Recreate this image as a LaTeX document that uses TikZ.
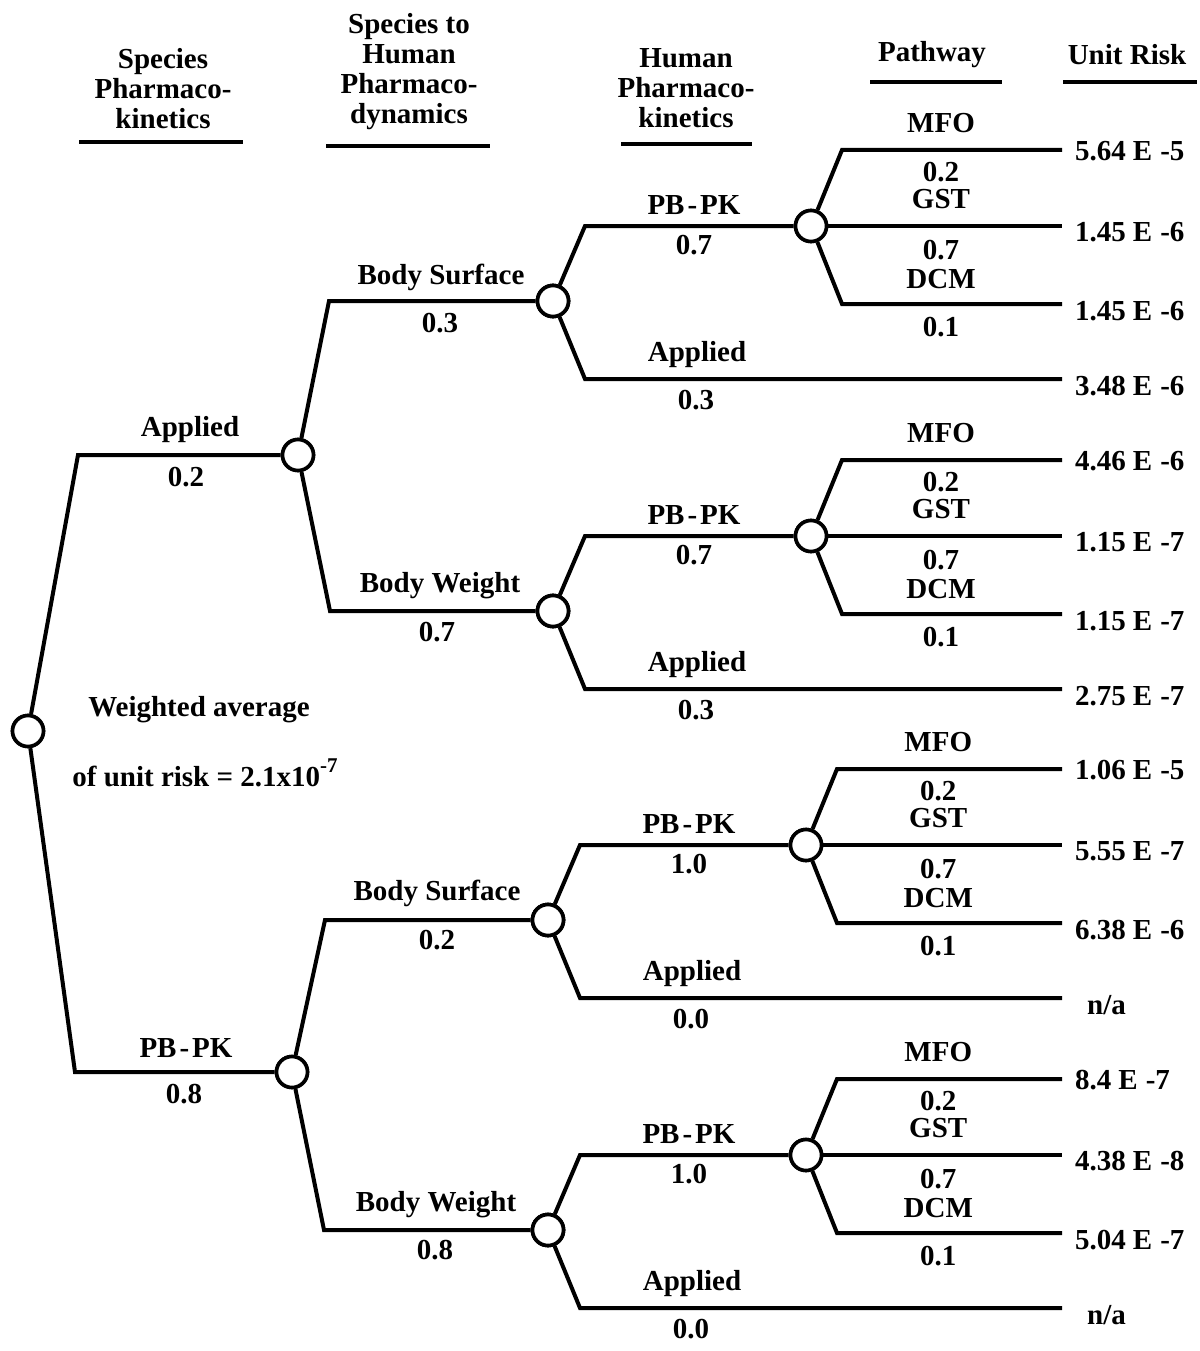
\documentclass[tikz,border=0pt]{standalone}
\usepackage{fontspec}
\setmainfont{Liberation Serif}
\usetikzlibrary{calc}
\tikzset{
  chance/.style={circle,draw,line width=3.6pt,minimum size=31pt,inner sep=0pt,fill=white},
  br/.style={line width=4pt,line join=miter},
  lab/.style={font=\fontsize{29}{30}\selectfont\bfseries,inner sep=0pt},
  val/.style={lab,anchor=west},
  hd/.style={lab,align=center},
  ul/.style={line width=4.5pt},
}
\newcommand\uv[3]{#1\hspace{7pt}E\hspace{8pt}-#3}
\newcommand\pbpk{PB\hspace{3pt}-\hspace{3pt}PK}
\newcommand\grp[9]{%
  \node[chance] (#1) at (#2,#3) {};
  \coordinate (#1u) at ($(#1)+(32,-75)$);
  \coordinate (#1d) at ($(#1)+(32,78)$);
  \node[chance] (#1c) at ($(#1)+(258,-75)$) {};
  \coordinate (#1cu) at ($(#1c)+(31,-76)$);
  \coordinate (#1cd) at ($(#1c)+(31,78)$);
  \coordinate (#1e1) at (#1cu -| E);
  \coordinate (#1e2) at (#1c -| E);
  \coordinate (#1e3) at (#1cd -| E);
  \coordinate (#1e4) at (#1d -| E);
  \draw[br] (#1) -- (#1u) -- (#1c);
  \draw[br] (#1) -- (#1d) -- (#1e4);
  \draw[br] (#1c) -- (#1cu) -- (#1e1);
  \draw[br] (#1c) -- (#1e2);
  \draw[br] (#1c) -- (#1cd) -- (#1e3);
  \node[chance] at (#1) {};
  \node[chance] at (#1c) {};
  \node[lab] at ($(#1u)!0.5!(#1c)+(-4,-21)$) {\pbpk};
  \node[lab] at ($(#1u)!0.5!(#1c)+(-4,19)$) {#4};
  \node[lab] at ($(#1u)!0.5!(#1c)+(-1,129)$) {Applied};
  \node[lab] at ($(#1u)!0.5!(#1c)+(-2,174)$) {#5};
  \node[lab] at ($(#1cu)!0.45!(#1e1)+(0,-27)$) {MFO};
  \node[lab] at ($(#1cu)!0.45!(#1e1)+(0,22)$) {0.2};
  \node[lab] at ($(#1cu)!0.45!(#1e1)+(0,49)$) {GST};
  \node[lab] at ($(#1cu)!0.45!(#1e1)+(0,100)$) {0.7};
  \node[lab] at ($(#1cu)!0.45!(#1e1)+(0,129)$) {DCM};
  \node[lab] at ($(#1cu)!0.45!(#1e1)+(0,177)$) {0.1};
  \node[val] at ($(#1e1)+(13,1)$) {#6};
  \node[val] at ($(#1e2)+(13,6)$) {#7};
  \node[val] at ($(#1e3)+(13,7)$) {#8};
  \node[val] at ($(#1e4)+(13,7)$) {#9};
}
\begin{document}
\begin{tikzpicture}[x=1pt,y=-1pt]
\path[use as bounding box] (0,0) rectangle (1199,1351);
\coordinate (E) at (1062,0);
% headers
\node[hd] (h1) at (163,89) {Species\\Pharmaco-\\kinetics};
\node[hd] (h2) at (409,72) {Species to\\Human\\Pharmaco-\\dynamics};
\node[hd] (h3) at (686,88) {Human\\Pharmaco-\\kinetics};
\node[hd] (h4) at (932,55) {Pathway};
\node[hd] (h5) at (1127,55) {Unit Risk};
\draw[ul] (79,142) -- (243,142);
\draw[ul] (326,146) -- (490,146);
\draw[ul] (621,144) -- (752,144);
\draw[ul] (870,82) -- (1002,82);
\draw[ul] (1063,82) -- (1197,82);
% root and level 1
\node[chance] (R) at (28,731) {};
\coordinate (A1) at (78,455);
\coordinate (P1) at (75,1072);
\node[chance] (CA) at (298,455) {};
\node[chance] (CP) at (292,1072) {};
\draw[br] (R) -- (A1) -- (CA);
\draw[br] (R) -- (P1) -- (CP);
\node[chance] at (R) {};
\node[lab] at (190,430) {Applied};
\node[lab] at (186,477) {0.2};
\node[lab] at (186,1048) {\pbpk};
\node[lab] at (184,1094) {0.8};
% level 2
\coordinate (BS1) at (329,301);
\coordinate (BW1) at (330,611);
\coordinate (BS2) at (325,920);
\coordinate (BW2) at (324,1230);
\grp{S1}{553}{301}{0.7}{0.3}{\uv{5.64}{}{5}}{\uv{1.45}{}{6}}{\uv{1.45}{}{6}}{\uv{3.48}{}{6}}
\grp{W1}{553}{611}{0.7}{0.3}{\uv{4.46}{}{6}}{\uv{1.15}{}{7}}{\uv{1.15}{}{7}}{\uv{2.75}{}{7}}
\grp{S2}{548}{920}{1.0}{0.0}{\uv{1.06}{}{5}}{\uv{5.55}{}{7}}{\uv{6.38}{}{6}}{\hspace{12pt}n/a}
\grp{W2}{548}{1230}{1.0}{0.0}{\uv{8.4}{}{7}}{\uv{4.38}{}{8}}{\uv{5.04}{}{7}}{\hspace{12pt}n/a}
\draw[br] (CA) -- (BS1) -- (S1);
\draw[br] (CA) -- (BW1) -- (W1);
\draw[br] (CP) -- (BS2) -- (S2);
\draw[br] (CP) -- (BW2) -- (W2);
\foreach \n in {CA,CP,S1,W1,S2,W2} \node[chance] at (\n) {};
\node[lab] at (441,277) {Body Surface};
\node[lab] at (440,323) {0.3};
\node[lab] at (440,586) {Body Weight};
\node[lab] at (437,632) {0.7};
\node[lab] at (437,893) {Body Surface};
\node[lab] at (437,940) {0.2};
\node[lab] at (436,1205) {Body Weight};
\node[lab] at (435,1250) {0.8};
% note
\node[lab] (w1) at (199,710) {Weighted average};
\node[lab] (w2) at (205,773) {of unit risk = 2.1x10\raisebox{14pt}{\fontsize{21}{21}\selectfont -7}};
\end{tikzpicture}
\end{document}
